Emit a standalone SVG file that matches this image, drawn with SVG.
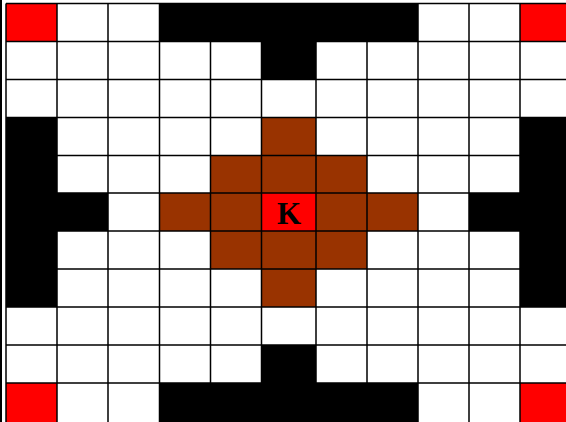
<svg xmlns="http://www.w3.org/2000/svg" width="566" height="422" viewBox="0 0 566 422">
<style>
.w{fill:#ffffff}.k{fill:#000000}.r{fill:#ff0000}.b{fill:#993300}
.grid{fill:none;stroke:#000000;stroke-width:1.5}
.lbl{font-family:"Liberation Serif","Times New Roman",serif;font-weight:bold;font-size:31px;fill:#000;text-anchor:middle}
</style>
<rect x="0" y="0" width="566" height="422" fill="#ffffff"/>
<line x1="1" y1="0" x2="1" y2="422" stroke="#000" stroke-width="2"/>
<g id="cells">
<!-- row 0 -->
<rect class="r" x="6" y="3.5" width="51" height="38"/>
<rect class="k" x="159.5" y="3.5" width="258.5" height="38"/>
<rect class="r" x="520" y="3.5" width="51" height="38"/>
<!-- row 1 -->
<rect class="k" x="261.5" y="41.5" width="54.5" height="38"/>
<!-- row 3 -->
<rect class="k" x="6" y="117.5" width="51" height="38"/>
<rect class="b" x="261.5" y="117.5" width="54.5" height="38"/>
<rect class="k" x="520" y="117.5" width="51" height="38"/>
<!-- row 4 -->
<rect class="k" x="6" y="155.5" width="51" height="37.5"/>
<rect class="b" x="210.5" y="155.5" width="156.5" height="37.5"/>
<rect class="k" x="520" y="155.5" width="51" height="37.5"/>
<!-- row 5 -->
<rect class="k" x="6" y="193" width="102" height="38"/>
<rect class="b" x="159.5" y="193" width="258.5" height="38"/>
<rect class="r" x="261.5" y="193" width="54.5" height="38"/>
<rect class="k" x="469" y="193" width="102" height="38"/>
<!-- row 6 -->
<rect class="k" x="6" y="231" width="51" height="38"/>
<rect class="b" x="210.5" y="231" width="156.5" height="38"/>
<rect class="k" x="520" y="231" width="51" height="38"/>
<!-- row 7 -->
<rect class="k" x="6" y="269" width="51" height="38"/>
<rect class="b" x="261.5" y="269" width="54.5" height="38"/>
<rect class="k" x="520" y="269" width="51" height="38"/>
<!-- row 9 -->
<rect class="k" x="261.5" y="345" width="54.5" height="38"/>
<!-- row 10 -->
<rect class="r" x="6" y="383" width="51" height="50"/>
<rect class="k" x="159.5" y="383" width="258.5" height="50"/>
<rect class="r" x="520" y="383" width="51" height="50"/>
</g>
<g id="gridlines">
<path class="grid" d="M6 3.5V422M57 3.5V422M108 3.5V422M159.5 3.5V422M210.5 3.5V422M261.5 3.5V422M316 3.5V422M367 3.5V422M418 3.5V422M469 3.5V422M520 3.5V422
M6 3.5H566M6 41.5H566M6 79.5H566M6 117.5H566M6 155.5H566M6 193H566M6 231H566M6 269H566M6 307H566M6 345H566M6 383H566"/>
</g>
<g id="target">
<text class="lbl" x="289" y="224">K</text>
</g>
</svg>
